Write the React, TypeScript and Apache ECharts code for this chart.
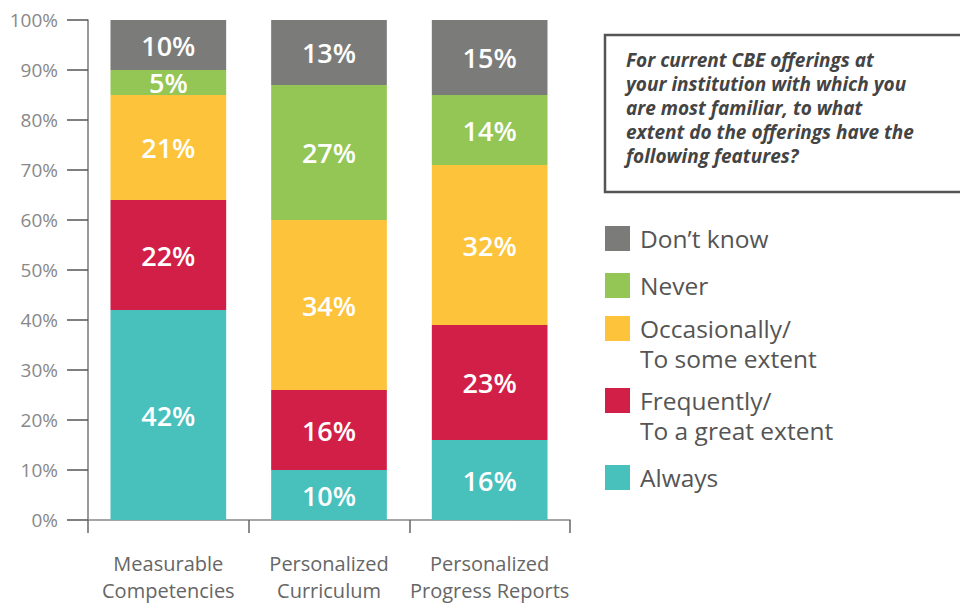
import React, { useEffect, useRef } from "react";
import * as echarts from "echarts";

const categories = ["Measurable\nCompetencies", "Personalized\nCurriculum", "Personalized\nProgress Reports"];
const seriesNames = ["Always", "Frequently/\nTo a great extent", "Occasionally/\nTo some extent", "Never", "Don\u2019t know"];
const always = [42, 10, 16];
const frequently = [22, 16, 23];
const occasionally = [21, 34, 32];
const never = [5, 27, 14];
const dontKnow = [10, 13, 15];
const colors = ["#48c0bc", "#d21f47", "#fdc33a", "#93c655", "#7b7c7a"];
const questionText = "For current CBE offerings at\nyour institution with which you\nare most familiar, to what\nextent do the offerings have the\nfollowing features?";

const FONT = "'Open Sans', sans-serif";

export default function App() {
  const ref = useRef<HTMLDivElement>(null);
  useEffect(() => {
    if (!ref.current) return;
    const chart = echarts.init(ref.current, null, { renderer: "svg" });
    const values = [always, frequently, occasionally, never, dontKnow];
    const series = values.map((d, i) => ({
      name: seriesNames[i],
      type: "bar",
      stack: "total",
      data: d,
      barWidth: "72%",
      itemStyle: { color: colors[i] },
      label: {
        show: true,
        position: "inside",
        formatter: "{c}%",
        color: "#ffffff",
        fontSize: 27,
        fontWeight: 600,
        fontFamily: FONT,
      },
    }));
    const legendTops = [465, 388, 316, 273, 226];
    const legendGraphics: any[] = [];
    for (let i = 0; i < seriesNames.length; i++) {
      const top = legendTops[i];
      legendGraphics.push({
        type: "rect",
        shape: { x: 605, y: top, width: 25, height: 25 },
        style: { fill: colors[i] },
      });
      legendGraphics.push({
        type: "text",
        x: 640,
        y: top - 2.5,
        style: {
          text: seriesNames[i],
          font: `24.5px ${FONT}`,
          fill: "#555555",
          lineHeight: 30,
          verticalAlign: "top",
          align: "left",
        },
      });
    }
    chart.setOption({
      animation: false,
      grid: { left: 88, right: 390, top: 20, bottom: 80 },
      xAxis: {
        type: "category",
        data: categories,
        axisLine: { show: true, lineStyle: { color: "#888888", width: 1.5 } },
        axisTick: { show: true, length: 13, lineStyle: { color: "#666666", width: 1.5 } },
        axisLabel: {
          interval: 0,
          color: "#666666",
          fontSize: 20,
          lineHeight: 27,
          margin: 30,
          fontFamily: FONT,
        },
      },
      yAxis: {
        type: "value",
        min: 0,
        max: 100,
        interval: 10,
        splitLine: { show: false },
        axisLine: { show: true, lineStyle: { color: "#777777", width: 1.5 } },
        axisTick: { show: true, length: 21, lineStyle: { color: "#555555", width: 1.5 } },
        axisLabel: {
          formatter: "{value}%",
          color: "#888888",
          fontSize: 19,
          margin: 30,
          fontFamily: FONT,
        },
      },
      series,
      graphic: [
        {
          type: "rect",
          shape: { x: 605, y: 35, width: 380, height: 157 },
          style: { fill: "#ffffff", stroke: "#555555", lineWidth: 2.5 },
        },
        {
          type: "text",
          x: 626,
          y: 48,
          style: {
            text: questionText,
            font: `italic bold 19px ${FONT}`,
            fill: "#444444",
            lineHeight: 24,
            verticalAlign: "top",
            align: "left",
          },
        },
        ...legendGraphics,
      ],
    });
    return () => chart.dispose();
  }, []);
  return (
    <div
      ref={ref}
      style={{ position: "absolute", left: 0, top: 0, width: 960, height: 604 }}
    />
  );
}
